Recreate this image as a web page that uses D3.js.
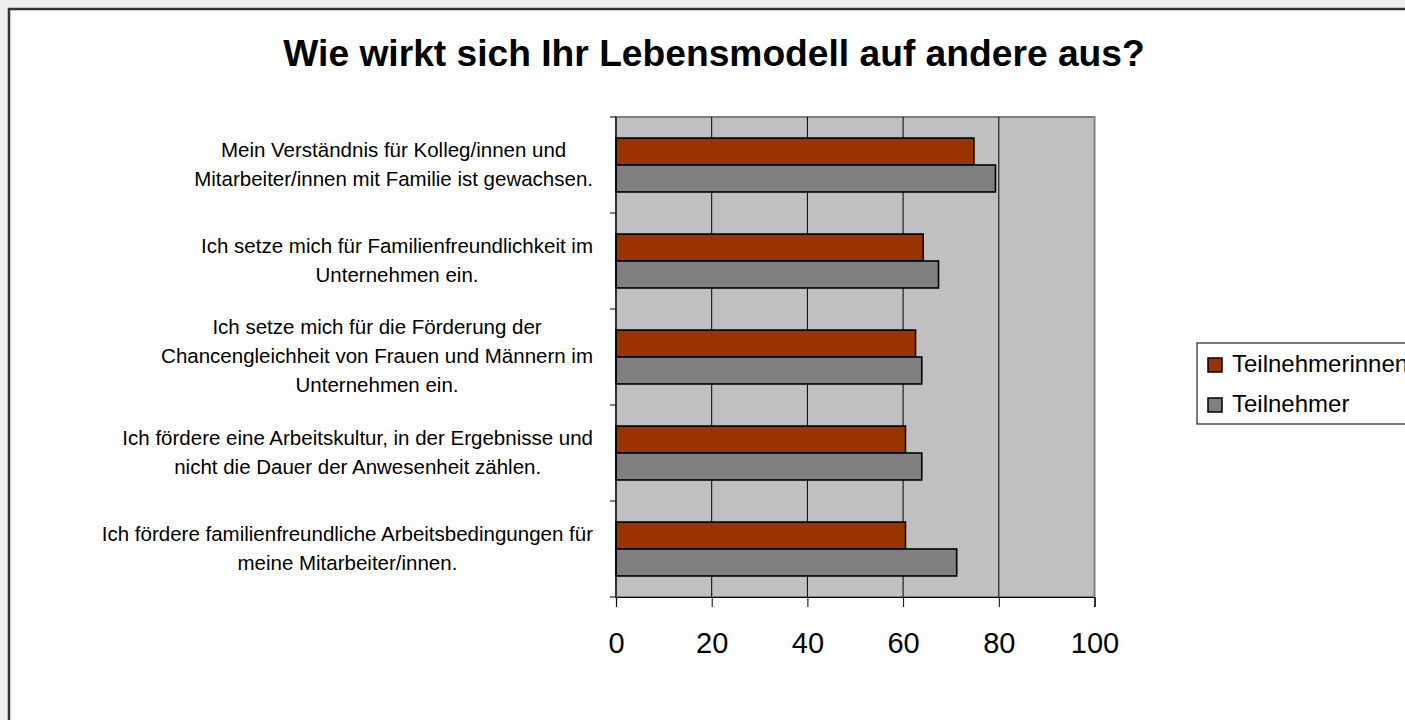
<!DOCTYPE html>
<html>
<head>
<meta charset="utf-8">
<script src="https://cdn.jsdelivr.net/npm/d3@7"></script>
<style>
	body { margin: 0; background: #edeeed; overflow: hidden; }
	svg { display: block; font-family: "Liberation Sans", Arial, sans-serif; }
</style>
</head>
<body>
<div id="chart"></div>
<script>
var chart_title = "Wie wirkt sich Ihr Lebensmodell auf andere aus?";
var categories = [
	["Mein Verständnis für Kolleg/innen und", "Mitarbeiter/innen mit Familie ist gewachsen."],
	["Ich setze mich für Familienfreundlichkeit im", "Unternehmen ein."],
	["Ich setze mich für die Förderung der", "Chancengleichheit von Frauen und Männern im", "Unternehmen ein."],
	["Ich fördere eine Arbeitskultur, in der Ergebnisse und", "nicht die Dauer der Anwesenheit zählen."],
	["Ich fördere familienfreundliche Arbeitsbedingungen für", "meine Mitarbeiter/innen."]
];
var series_names = ["Teilnehmerinnen", "Teilnehmer"];
var women_values = [74.8, 64.2, 62.6, 60.5, 60.5];
var men_values = [79.3, 67.4, 63.9, 63.9, 71.2];
var x_ticks = [0, 20, 40, 60, 80, 100];
var colors = ["#993300", "#808080"];

function bar_chart(width, height, tag) {
	this.width = width;
	this.height = height;
	this.plot = {left: 616, right: 1094.5, top: 117, bottom: 597};
	this.svg = d3.select(tag)
		.append("svg")
		.attr("width", width)
		.attr("height", height);
	this.init();
}

bar_chart.prototype = {
	init : function() {
		var self = this;
		self.rows = [];
		for (var i = 0; i < categories.length; i++) {
			self.rows.push({
				lines : categories[i],
				values : [women_values[i], men_values[i]]
			});
		}
		self.x = d3.scaleLinear()
			.domain([0, 100])
			.range([self.plot.left, self.plot.right]);
		self.y = d3.scaleBand()
			.domain(d3.range(categories.length))
			.range([self.plot.top, self.plot.bottom])
			.paddingInner(0)
			.paddingOuter(0);
		self.sub = d3.scaleBand()
			.domain([0, 1])
			.range([0, self.y.bandwidth()])
			.paddingInner(0)
			.paddingOuter(0.78);
	},
	update : function() {
		var self = this;
		var p = self.plot;

		// white chart frame, runs off the page at right and bottom
		self.svg.append("rect")
			.attr("x", 9)
			.attr("y", 9)
			.attr("width", self.width + 20)
			.attr("height", self.height + 20)
			.attr("fill", "white")
			.attr("stroke", "#333")
			.attr("stroke-width", 2.5);

		self.svg.append("text")
			.text(chart_title)
			.attr("x", 714)
			.attr("y", 66)
			.attr("text-anchor", "middle")
			.style("font-size", "37.2px")
			.style("font-weight", "bold")
			.style("fill", "black");

		// plot background
		self.svg.append("rect")
			.attr("x", p.left)
			.attr("y", p.top)
			.attr("width", p.right - p.left)
			.attr("height", p.bottom - p.top)
			.attr("fill", "#c0c0c0")
			.attr("stroke", "#808080")
			.attr("stroke-width", 2);

		// vertical grid lines
		self.svg.selectAll("line.grid")
			.data(x_ticks.slice(1, -1))
			.enter()
			.append("line")
			.attr("class", "grid")
			.attr("x1", function(d) { return self.x(d); })
			.attr("x2", function(d) { return self.x(d); })
			.attr("y1", p.top)
			.attr("y2", p.bottom)
			.attr("stroke", "black")
			.attr("stroke-width", 1);

		var groups = self.svg.selectAll("g.row")
			.data(self.rows)
			.enter()
			.append("g")
			.attr("class", "row")
			.attr("transform", function(d, i) {
				return "translate(0," + self.y(i) + ")";
			});

		groups.selectAll("rect")
			.data(function(d) { return d.values; })
			.enter()
			.append("rect")
			.attr("x", self.x(0))
			.attr("y", function(d, j) { return self.sub(j); })
			.attr("width", function(d) { return self.x(d) - self.x(0); })
			.attr("height", self.sub.bandwidth())
			.attr("fill", function(d, j) { return colors[j]; })
			.attr("stroke", "black")
			.attr("stroke-width", 1.6);

		// category labels, lines centred in a block that ends at the axis
		var lh = 29;
		groups.each(function(d) {
			var g = d3.select(this);
			var texts = g.append("g").selectAll("text")
				.data(d.lines)
				.enter()
				.append("text")
				.text(function(t) { return t; })
				.attr("y", function(t, k) {
					return self.y.bandwidth() / 2 + (k - (d.lines.length - 1) / 2) * lh + 6;
				})
				.attr("text-anchor", "middle")
				.style("font-size", "20.5px")
				.style("fill", "black");
			var maxw = 0;
			texts.each(function() {
				maxw = Math.max(maxw, this.getComputedTextLength());
			});
			texts.attr("x", 593 - maxw / 2);
		});

		// left axis
		self.svg.append("line")
			.attr("x1", p.left).attr("x2", p.left)
			.attr("y1", p.top).attr("y2", p.bottom)
			.attr("stroke", "black").attr("stroke-width", 1.2);
		self.svg.selectAll("line.ytick")
			.data(d3.range(categories.length + 1))
			.enter()
			.append("line")
			.attr("class", "ytick")
			.attr("x1", p.left - 6).attr("x2", p.left)
			.attr("y1", function(i) { return p.top + i * self.y.step(); })
			.attr("y2", function(i) { return p.top + i * self.y.step(); })
			.attr("stroke", "black");

		// bottom axis
		var xAxis = d3.axisBottom(self.x)
			.tickValues(x_ticks)
			.tickSize(10)
			.tickPadding(25);
		var ax = self.svg.append("g")
			.attr("transform", "translate(0," + p.bottom + ")")
			.call(xAxis);
		ax.select(".domain").attr("stroke", "black").attr("stroke-width", 1.2);
		ax.selectAll(".tick line").attr("stroke", "black");
		ax.selectAll(".tick text")
			.attr("fill", "black")
			.style("font-family", "'Liberation Sans', Arial, sans-serif")
			.style("font-size", "29px");

		// legend
		var lg = self.svg.append("g").attr("transform", "translate(1197,343)");
		lg.append("rect")
			.attr("width", 260)
			.attr("height", 81)
			.attr("fill", "white")
			.attr("stroke", "#222")
			.attr("stroke-width", 1.2);
		var items = lg.selectAll("g.item")
			.data(series_names)
			.enter()
			.append("g")
			.attr("class", "item")
			.attr("transform", function(d, i) {
				return "translate(11," + (15 + i * 40) + ")";
			});
		items.append("rect")
			.attr("width", 14)
			.attr("height", 14)
			.attr("fill", function(d, i) { return colors[i]; })
			.attr("stroke", "black")
			.attr("stroke-width", 1.5);
		items.append("text")
			.text(function(d) { return d; })
			.attr("x", 24)
			.attr("y", 14)
			.style("font-size", "24px")
			.style("fill", "black");
	}
};

var my_chart = new bar_chart(1405, 720, "#chart");
my_chart.update();
</script>
</body>
</html>
